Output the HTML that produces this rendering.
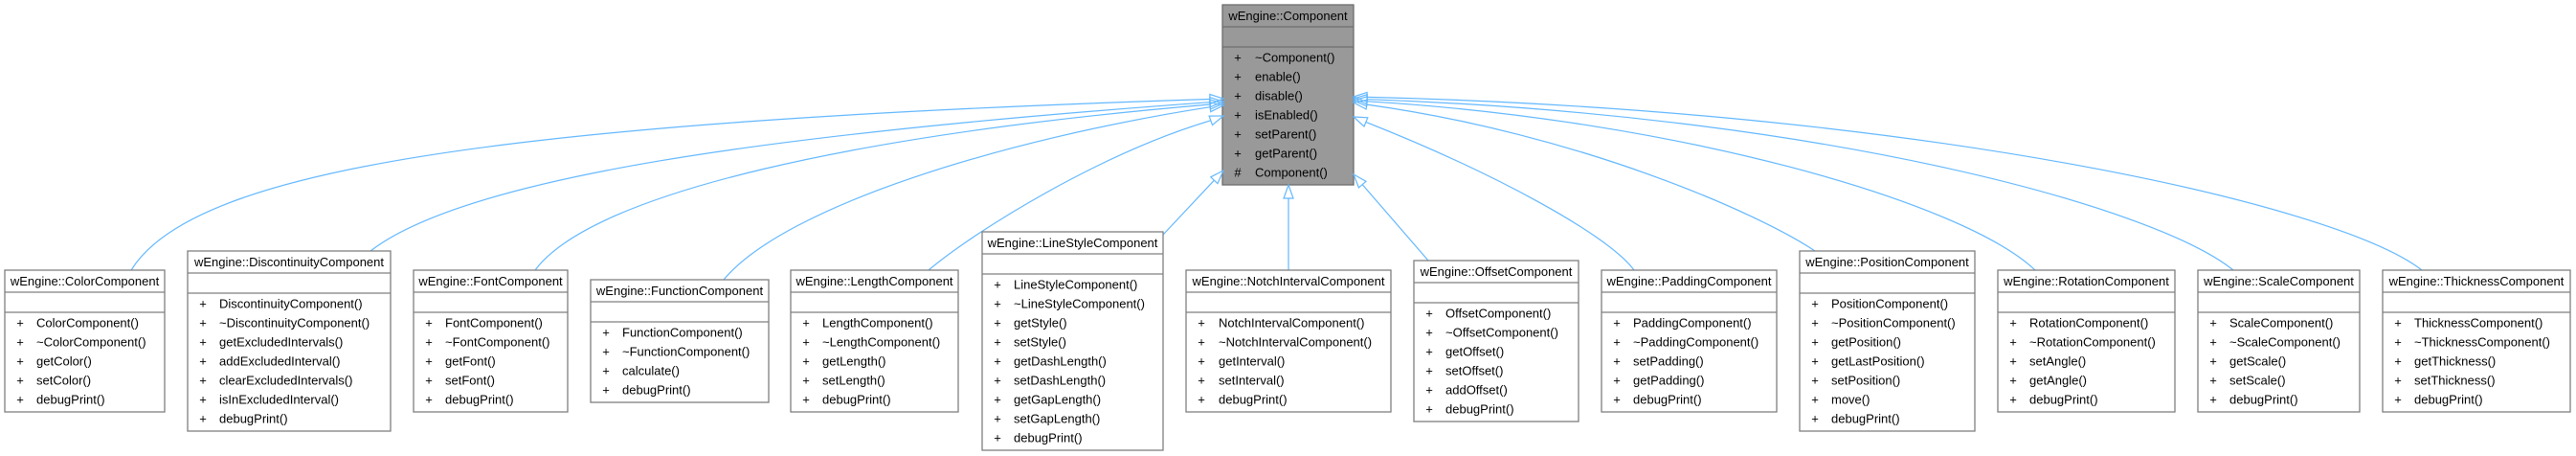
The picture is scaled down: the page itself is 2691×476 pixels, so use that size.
<!DOCTYPE html>
<html><head><meta charset="utf-8"><style>
html,body{margin:0;padding:0;background:#fff;}
svg{display:block;}
text{font-family:"Liberation Sans",Arial,Helvetica,sans-serif;font-size:13px;fill:#000;}
.b{fill:#fff;stroke:#7f7f7f;stroke-width:1.3;}
.s{stroke:#7f7f7f;stroke-width:1.3;}
.g{fill:#999;stroke:#6e6e6e;stroke-width:1.3;}
.gs{stroke:#6e6e6e;stroke-width:1.3;}
.e{fill:none;stroke:#63b8ff;stroke-width:1.2;}
.a{fill:none;stroke:#63b8ff;stroke-width:1.2;}
.t{text-anchor:middle;}
.p{text-anchor:middle;}
</style></head><body>
<svg width="2691" height="476" viewBox="0 0 2691 476" xmlns="http://www.w3.org/2000/svg">
<rect width="2691" height="476" fill="#fff"/>

<!-- edges -->
<path class="e" d="M137,282 C200,180 500,128 1264,103.5"/>
<path class="e" d="M387,262 C487,185 800,140 1264,106.7"/>
<path class="e" d="M559,282 C620,200 900,140 1264,109"/>
<path class="e" d="M756,292 C820,215 1050,145 1264.1,111.7"/>
<path class="e" d="M970,282 C1020,240 1150,160 1264.8,125.8"/>
<path class="e" d="M1215,245 L1268.4,188.2"/>
<path class="e" d="M1346,282 L1346,207"/>
<path class="e" d="M1492,272 L1423.2,192.6"/>
<path class="e" d="M1707,282 C1680,245 1560,180 1426.9,127.4"/>
<path class="e" d="M1896,262 C1836,222 1650,140 1427.8,109.1"/>
<path class="e" d="M2126,282 C2050,210 1750,125 1428,105.8"/>
<path class="e" d="M2333,282 C2250,215 1900,120 1428,103.7"/>
<path class="e" d="M2530,282 C2440,212 2000,115 1428,101.4"/>

<!-- Component (base) -->
<g transform="translate(1277,5)">
<rect class="g" x="0" y="0" width="137" height="188"/>
<line class="gs" x1="0" y1="23" x2="137" y2="23"/>
<line class="gs" x1="0" y1="44" x2="137" y2="44"/>
<text class="t" x="68.5" y="16">wEngine::Component</text>
<text class="p" x="16" y="59.5">+</text><text x="34" y="59.5">~Component()</text>
<text class="p" x="16" y="79.5">+</text><text x="34" y="79.5">enable()</text>
<text class="p" x="16" y="99.5">+</text><text x="34" y="99.5">disable()</text>
<text class="p" x="16" y="119.5">+</text><text x="34" y="119.5">isEnabled()</text>
<text class="p" x="16" y="139.5">+</text><text x="34" y="139.5">setParent()</text>
<text class="p" x="16" y="159.5">+</text><text x="34" y="159.5">getParent()</text>
<text class="p" x="16" y="179.5">#</text><text x="34" y="179.5">Component()</text>
</g>

<!-- arrowheads -->
<polygon class="a" points="1278,103 1264.2,108.5 1263.8,98.5"/>
<polygon class="a" points="1278,106 1264.3,111.7 1263.8,101.7"/>
<polygon class="a" points="1278,108 1264.4,114 1263.6,104"/>
<polygon class="a" points="1278,110 1264.7,116.7 1263.5,106.7"/>
<polygon class="a" points="1278,121 1266.5,130.5 1263.1,121.1"/>
<polygon class="a" points="1278,178 1272,191.6 1264.8,184.8"/>
<polygon class="a" points="1346,193 1351,207 1341,207"/>
<polygon class="a" points="1414,182 1427,189.3 1419.4,195.9"/>
<polygon class="a" points="1414,122 1428.8,122.8 1425,132"/>
<polygon class="a" points="1414,107 1428.5,104.2 1427.1,114"/>
<polygon class="a" points="1414,105 1428.3,100.8 1427.7,110.8"/>
<polygon class="a" points="1414,103 1428.3,98.7 1427.8,108.7"/>
<polygon class="a" points="1414,101 1428.1,96.4 1427.9,106.4"/>

<!-- Color -->
<g transform="translate(5,282)">
<rect class="b" width="167" height="148"/>
<line class="s" x1="0" y1="23" x2="167" y2="23"/><line class="s" x1="0" y1="44" x2="167" y2="44"/>
<text class="t" x="83.5" y="16">wEngine::ColorComponent</text>
<text class="p" x="16" y="59.5">+</text><text x="33" y="59.5">ColorComponent()</text>
<text class="p" x="16" y="79.5">+</text><text x="33" y="79.5">~ColorComponent()</text>
<text class="p" x="16" y="99.5">+</text><text x="33" y="99.5">getColor()</text>
<text class="p" x="16" y="119.5">+</text><text x="33" y="119.5">setColor()</text>
<text class="p" x="16" y="139.5">+</text><text x="33" y="139.5">debugPrint()</text>
</g>

<!-- Discontinuity -->
<g transform="translate(196,262)">
<rect class="b" width="212" height="188"/>
<line class="s" x1="0" y1="23" x2="212" y2="23"/><line class="s" x1="0" y1="44" x2="212" y2="44"/>
<text class="t" x="106" y="16">wEngine::DiscontinuityComponent</text>
<text class="p" x="16" y="59.5">+</text><text x="33" y="59.5">DiscontinuityComponent()</text>
<text class="p" x="16" y="79.5">+</text><text x="33" y="79.5">~DiscontinuityComponent()</text>
<text class="p" x="16" y="99.5">+</text><text x="33" y="99.5">getExcludedIntervals()</text>
<text class="p" x="16" y="119.5">+</text><text x="33" y="119.5">addExcludedInterval()</text>
<text class="p" x="16" y="139.5">+</text><text x="33" y="139.5">clearExcludedIntervals()</text>
<text class="p" x="16" y="159.5">+</text><text x="33" y="159.5">isInExcludedInterval()</text>
<text class="p" x="16" y="179.5">+</text><text x="33" y="179.5">debugPrint()</text>
</g>

<!-- Font -->
<g transform="translate(432,282)">
<rect class="b" width="161" height="148"/>
<line class="s" x1="0" y1="23" x2="161" y2="23"/><line class="s" x1="0" y1="44" x2="161" y2="44"/>
<text class="t" x="80.5" y="16">wEngine::FontComponent</text>
<text class="p" x="16" y="59.5">+</text><text x="33" y="59.5">FontComponent()</text>
<text class="p" x="16" y="79.5">+</text><text x="33" y="79.5">~FontComponent()</text>
<text class="p" x="16" y="99.5">+</text><text x="33" y="99.5">getFont()</text>
<text class="p" x="16" y="119.5">+</text><text x="33" y="119.5">setFont()</text>
<text class="p" x="16" y="139.5">+</text><text x="33" y="139.5">debugPrint()</text>
</g>

<!-- Function -->
<g transform="translate(617,292)">
<rect class="b" width="186" height="128"/>
<line class="s" x1="0" y1="23" x2="186" y2="23"/><line class="s" x1="0" y1="44" x2="186" y2="44"/>
<text class="t" x="93" y="16">wEngine::FunctionComponent</text>
<text class="p" x="16" y="59.5">+</text><text x="33" y="59.5">FunctionComponent()</text>
<text class="p" x="16" y="79.5">+</text><text x="33" y="79.5">~FunctionComponent()</text>
<text class="p" x="16" y="99.5">+</text><text x="33" y="99.5">calculate()</text>
<text class="p" x="16" y="119.5">+</text><text x="33" y="119.5">debugPrint()</text>
</g>

<!-- Length -->
<g transform="translate(826,282)">
<rect class="b" width="175" height="148"/>
<line class="s" x1="0" y1="23" x2="175" y2="23"/><line class="s" x1="0" y1="44" x2="175" y2="44"/>
<text class="t" x="87.5" y="16">wEngine::LengthComponent</text>
<text class="p" x="16" y="59.5">+</text><text x="33" y="59.5">LengthComponent()</text>
<text class="p" x="16" y="79.5">+</text><text x="33" y="79.5">~LengthComponent()</text>
<text class="p" x="16" y="99.5">+</text><text x="33" y="99.5">getLength()</text>
<text class="p" x="16" y="119.5">+</text><text x="33" y="119.5">setLength()</text>
<text class="p" x="16" y="139.5">+</text><text x="33" y="139.5">debugPrint()</text>
</g>

<!-- LineStyle -->
<g transform="translate(1026,242)">
<rect class="b" width="189" height="228"/>
<line class="s" x1="0" y1="23" x2="189" y2="23"/><line class="s" x1="0" y1="44" x2="189" y2="44"/>
<text class="t" x="94.5" y="16">wEngine::LineStyleComponent</text>
<text class="p" x="16" y="59.5">+</text><text x="33" y="59.5">LineStyleComponent()</text>
<text class="p" x="16" y="79.5">+</text><text x="33" y="79.5">~LineStyleComponent()</text>
<text class="p" x="16" y="99.5">+</text><text x="33" y="99.5">getStyle()</text>
<text class="p" x="16" y="119.5">+</text><text x="33" y="119.5">setStyle()</text>
<text class="p" x="16" y="139.5">+</text><text x="33" y="139.5">getDashLength()</text>
<text class="p" x="16" y="159.5">+</text><text x="33" y="159.5">setDashLength()</text>
<text class="p" x="16" y="179.5">+</text><text x="33" y="179.5">getGapLength()</text>
<text class="p" x="16" y="199.5">+</text><text x="33" y="199.5">setGapLength()</text>
<text class="p" x="16" y="219.5">+</text><text x="33" y="219.5">debugPrint()</text>
</g>

<!-- NotchInterval -->
<g transform="translate(1239,282)">
<rect class="b" width="214" height="148"/>
<line class="s" x1="0" y1="23" x2="214" y2="23"/><line class="s" x1="0" y1="44" x2="214" y2="44"/>
<text class="t" x="107" y="16">wEngine::NotchIntervalComponent</text>
<text class="p" x="16" y="59.5">+</text><text x="34" y="59.5">NotchIntervalComponent()</text>
<text class="p" x="16" y="79.5">+</text><text x="34" y="79.5">~NotchIntervalComponent()</text>
<text class="p" x="16" y="99.5">+</text><text x="34" y="99.5">getInterval()</text>
<text class="p" x="16" y="119.5">+</text><text x="34" y="119.5">setInterval()</text>
<text class="p" x="16" y="139.5">+</text><text x="34" y="139.5">debugPrint()</text>
</g>

<!-- Offset -->
<g transform="translate(1477,272)">
<rect class="b" width="172" height="168"/>
<line class="s" x1="0" y1="23" x2="172" y2="23"/><line class="s" x1="0" y1="44" x2="172" y2="44"/>
<text class="t" x="86" y="16">wEngine::OffsetComponent</text>
<text class="p" x="16" y="59.5">+</text><text x="33" y="59.5">OffsetComponent()</text>
<text class="p" x="16" y="79.5">+</text><text x="33" y="79.5">~OffsetComponent()</text>
<text class="p" x="16" y="99.5">+</text><text x="33" y="99.5">getOffset()</text>
<text class="p" x="16" y="119.5">+</text><text x="33" y="119.5">setOffset()</text>
<text class="p" x="16" y="139.5">+</text><text x="33" y="139.5">addOffset()</text>
<text class="p" x="16" y="159.5">+</text><text x="33" y="159.5">debugPrint()</text>
</g>

<!-- Padding -->
<g transform="translate(1673,282)">
<rect class="b" width="183" height="148"/>
<line class="s" x1="0" y1="23" x2="183" y2="23"/><line class="s" x1="0" y1="44" x2="183" y2="44"/>
<text class="t" x="91.5" y="16">wEngine::PaddingComponent</text>
<text class="p" x="16" y="59.5">+</text><text x="33" y="59.5">PaddingComponent()</text>
<text class="p" x="16" y="79.5">+</text><text x="33" y="79.5">~PaddingComponent()</text>
<text class="p" x="16" y="99.5">+</text><text x="33" y="99.5">setPadding()</text>
<text class="p" x="16" y="119.5">+</text><text x="33" y="119.5">getPadding()</text>
<text class="p" x="16" y="139.5">+</text><text x="33" y="139.5">debugPrint()</text>
</g>

<!-- Position -->
<g transform="translate(1880,262)">
<rect class="b" width="183" height="188"/>
<line class="s" x1="0" y1="23" x2="183" y2="23"/><line class="s" x1="0" y1="44" x2="183" y2="44"/>
<text class="t" x="91.5" y="16">wEngine::PositionComponent</text>
<text class="p" x="16" y="59.5">+</text><text x="33" y="59.5">PositionComponent()</text>
<text class="p" x="16" y="79.5">+</text><text x="33" y="79.5">~PositionComponent()</text>
<text class="p" x="16" y="99.5">+</text><text x="33" y="99.5">getPosition()</text>
<text class="p" x="16" y="119.5">+</text><text x="33" y="119.5">getLastPosition()</text>
<text class="p" x="16" y="139.5">+</text><text x="33" y="139.5">setPosition()</text>
<text class="p" x="16" y="159.5">+</text><text x="33" y="159.5">move()</text>
<text class="p" x="16" y="179.5">+</text><text x="33" y="179.5">debugPrint()</text>
</g>

<!-- Rotation -->
<g transform="translate(2087,282)">
<rect class="b" width="185" height="148"/>
<line class="s" x1="0" y1="23" x2="185" y2="23"/><line class="s" x1="0" y1="44" x2="185" y2="44"/>
<text class="t" x="92.5" y="16">wEngine::RotationComponent</text>
<text class="p" x="16" y="59.5">+</text><text x="33" y="59.5">RotationComponent()</text>
<text class="p" x="16" y="79.5">+</text><text x="33" y="79.5">~RotationComponent()</text>
<text class="p" x="16" y="99.5">+</text><text x="33" y="99.5">setAngle()</text>
<text class="p" x="16" y="119.5">+</text><text x="33" y="119.5">getAngle()</text>
<text class="p" x="16" y="139.5">+</text><text x="33" y="139.5">debugPrint()</text>
</g>

<!-- Scale -->
<g transform="translate(2296,282)">
<rect class="b" width="169" height="148"/>
<line class="s" x1="0" y1="23" x2="169" y2="23"/><line class="s" x1="0" y1="44" x2="169" y2="44"/>
<text class="t" x="84.5" y="16">wEngine::ScaleComponent</text>
<text class="p" x="16" y="59.5">+</text><text x="33" y="59.5">ScaleComponent()</text>
<text class="p" x="16" y="79.5">+</text><text x="33" y="79.5">~ScaleComponent()</text>
<text class="p" x="16" y="99.5">+</text><text x="33" y="99.5">getScale()</text>
<text class="p" x="16" y="119.5">+</text><text x="33" y="119.5">setScale()</text>
<text class="p" x="16" y="139.5">+</text><text x="33" y="139.5">debugPrint()</text>
</g>

<!-- Thickness -->
<g transform="translate(2489,282)">
<rect class="b" width="196" height="148"/>
<line class="s" x1="0" y1="23" x2="196" y2="23"/><line class="s" x1="0" y1="44" x2="196" y2="44"/>
<text class="t" x="98" y="16">wEngine::ThicknessComponent</text>
<text class="p" x="16" y="59.5">+</text><text x="33" y="59.5">ThicknessComponent()</text>
<text class="p" x="16" y="79.5">+</text><text x="33" y="79.5">~ThicknessComponent()</text>
<text class="p" x="16" y="99.5">+</text><text x="33" y="99.5">getThickness()</text>
<text class="p" x="16" y="119.5">+</text><text x="33" y="119.5">setThickness()</text>
<text class="p" x="16" y="139.5">+</text><text x="33" y="139.5">debugPrint()</text>
</g>
</svg>
</body></html>
